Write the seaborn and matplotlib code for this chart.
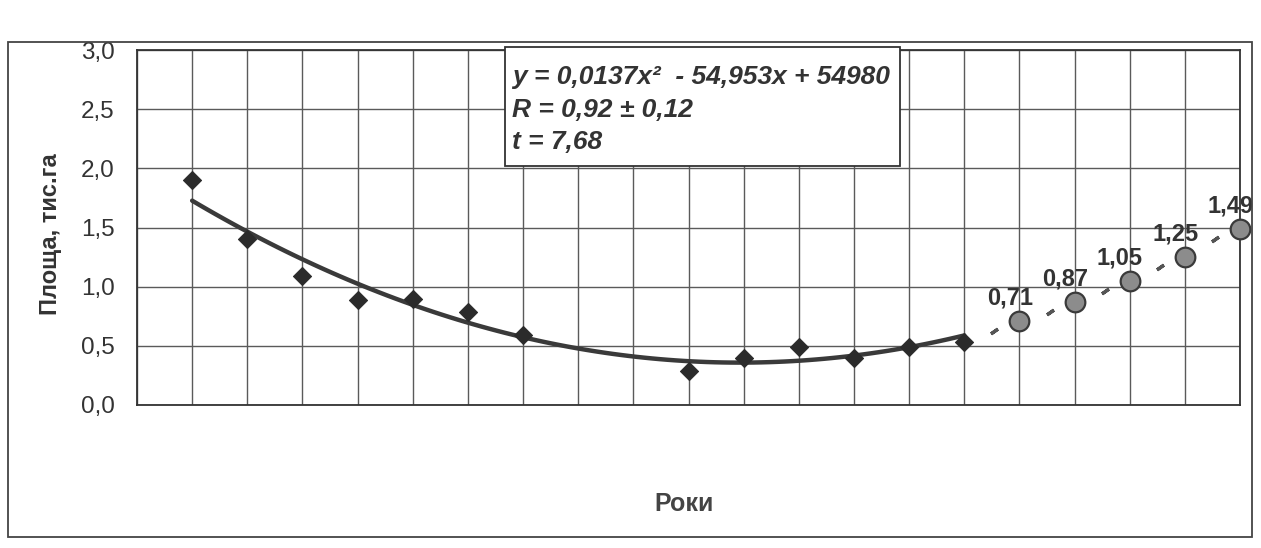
import matplotlib
matplotlib.use("Agg")
import matplotlib.pyplot as plt
import matplotlib.transforms as mtransforms
from matplotlib.patches import Rectangle
import seaborn as sns

# observed area (thousand ha) by year
years = [1995, 1996, 1997, 1998, 1999, 2000, 2001, 2004, 2005, 2006, 2007, 2008, 2009]
area = [1.90, 1.40, 1.09, 0.89, 0.90, 0.79, 0.59, 0.29, 0.40, 0.49, 0.40, 0.49, 0.53]

# forecast values
forecast_years = [2010, 2011, 2012, 2013, 2014]
forecast = [0.71, 0.87, 1.05, 1.25, 1.49]

y_ticks = [0.0, 0.5, 1.0, 1.5, 2.0, 2.5, 3.0]
y_tick_labels = ['0,0', '0,5', '1,0', '1,5', '2,0', '2,5', '3,0']
eq_lines = ['y = 0,0137x²  - 54,953x + 54980', 'R = 0,92 ± 0,12', 't = 7,68']

sns.set_style("white")
plt.rcParams['font.family'] = ['Liberation Sans', 'DejaVu Sans']

dark = '#333333'
fig = plt.figure(figsize=(12.61, 5.48), dpi=100)
ax = fig.add_axes([137 / 1261, 1 - 405 / 548, (1240 - 137) / 1261, 355 / 548])

# grid
ax.set_xlim(1994, 2014)
ax.set_ylim(0, 3)
ax.set_xticks(range(1994, 2015))
ax.set_xticklabels([])
ax.set_yticks(y_ticks)
ax.set_yticklabels(y_tick_labels)
ax.grid(True, color='#5a5a5a', lw=1.0)
ax.set_axisbelow(True)
for s in ax.spines.values():
    s.set_color(dark)
    s.set_linewidth(1.3)
ax.tick_params(axis='both', direction='out', length=5, width=1.0, color='#555555',
               labelsize=17.5, labelcolor=dark, pad=11)

# polynomial trend
sns.regplot(x=years, y=area, order=2, ci=None, scatter=False, truncate=True,
            line_kws=dict(color='#3a3a3a', lw=3.2, zorder=3), ax=ax)

# observed points
sns.scatterplot(x=years, y=area, marker='D', s=85, color='#2b2b2b',
                edgecolor='#2b2b2b', zorder=4, ax=ax)

# forecast points
sns.scatterplot(x=forecast_years, y=forecast, marker='o', s=200, color='#8c8c8c',
                edgecolor='#3a3a3a', linewidth=1.6, zorder=4, clip_on=False, ax=ax)

# leader dashes
shift = ax.transData + mtransforms.ScaledTranslation(-0.25, -0.10, fig.dpi_scale_trans)
ax.plot(forecast_years, forecast, ls='none', marker=(2, 2, -55), markersize=6,
        markeredgewidth=2.4, color='#555555', transform=shift, clip_on=False, zorder=4)

for x, v in zip(forecast_years, forecast):
    ax.annotate(f"{v:.2f}".replace('.', ','), (x, v), xytext=(-7, 8),
                textcoords='offset points', ha='center', va='bottom',
                fontsize=17, fontweight='bold', color=dark, zorder=6)

# equation box
ax.add_patch(Rectangle((0.3336, 0.673), 0.6918 - 0.3336, 1.008 - 0.673,
                       transform=ax.transAxes, fc='white', ec=dark, lw=1.3,
                       clip_on=False, zorder=5))
for line, yb in zip(eq_lines, [0.904, 0.811, 0.721]):
    ax.text(0.340, yb, line, transform=ax.transAxes, va='baseline', ha='left',
            fontsize=19, fontweight='bold', fontstyle='italic', color=dark, zorder=6)

ax.set_ylabel('Площа, тис.га', fontsize=17, fontweight='bold', color=dark)
ax.yaxis.set_label_coords(-0.068, 0.482)
ax.set_xlabel('Роки', fontsize=18, fontweight='bold', color='#444444')
ax.xaxis.set_label_coords(0.496, -0.245)

# outer chart frame
fig.add_artist(Rectangle((8 / 1261, 1 - 537 / 548), (1252 - 8) / 1261, (537 - 42) / 548,
                         transform=fig.transFigure, fill=False, ec='#444444', lw=1.3))

plt.savefig('out.png', dpi=100)
